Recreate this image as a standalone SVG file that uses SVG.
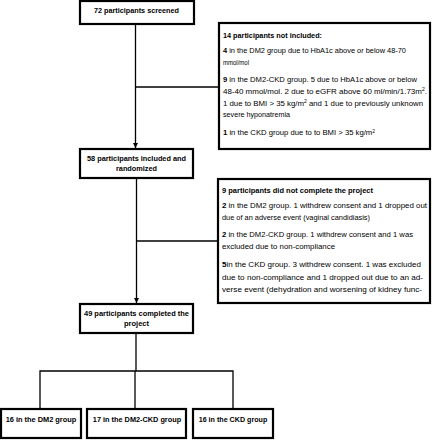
<svg xmlns="http://www.w3.org/2000/svg" width="432" height="440" viewBox="0 0 432 440">
<style>
.box{fill:#fff;stroke:#000;stroke-width:2.2}
.c{fill:none;stroke:#000;stroke-width:1.3}
text{font-family:"Liberation Sans",Arial,sans-serif;font-size:7px;fill:#000}
.b{font-weight:bold}
.m{text-anchor:middle}
.sup{font-size:4.5px}
</style>
<defs>
<marker id="ah" markerWidth="6" markerHeight="6" refX="5" refY="3" orient="auto" markerUnits="userSpaceOnUse">
<path d="M0,0.5 L5,3 L0,5.5 Z" fill="#000"/>
</marker>
</defs>
<rect width="432" height="440" fill="#fff"/>
<g id="connectors">
<path class="c" d="M135.5 24 V148" marker-end="url(#ah)"/>
<path class="c" d="M135.5 87 H219"/>
<path class="c" d="M136.5 178 V303" marker-end="url(#ah)"/>
<path class="c" d="M136.5 241 H218"/>
<path class="c" d="M136 333 V371"/>
<path class="c" d="M40 409 V371 H233 V409"/>
<path class="c" d="M135 371 V409"/>
</g>
<g id="screened">
<rect class="box" x="80" y="1" width="114" height="23"/>
<text class="b m" x="136.5" y="12.5" textLength="85" lengthAdjust="spacingAndGlyphs">72 participants screened</text>
</g>
<g id="not-included">
<rect class="box" x="219" y="23" width="211" height="126"/>
<text class="b" x="223" y="37.5" textLength="99" lengthAdjust="spacingAndGlyphs">14 participants not included:</text>
<text x="223" y="52.5" textLength="183" lengthAdjust="spacingAndGlyphs"><tspan class="b">4</tspan> in the DM2 group due to HbA1c above or below 48-70</text>
<text x="223" y="64.5" textLength="26" lengthAdjust="spacingAndGlyphs">mmol/mol</text>
<text x="223" y="81.5" textLength="194" lengthAdjust="spacingAndGlyphs"><tspan class="b">9</tspan> in the DM2-CKD group. 5 due to HbA1c above or below</text>
<text x="223" y="93.5" textLength="204" lengthAdjust="spacingAndGlyphs">48-40 mmol/mol. 2 due to eGFR above 60 ml/min/1.73m<tspan class="sup" dy="-2.5">2</tspan><tspan dy="2.5">.</tspan></text>
<text x="223" y="105.5" textLength="200" lengthAdjust="spacingAndGlyphs">1 due to BMI &gt; 35 kg/m<tspan class="sup" dy="-2.5">2</tspan><tspan dy="2.5"> and 1 due to previously unknown</tspan></text>
<text x="223" y="117" textLength="67" lengthAdjust="spacingAndGlyphs">severe hyponatremia</text>
<text x="223" y="135" textLength="152" lengthAdjust="spacingAndGlyphs"><tspan class="b">1</tspan> in the CKD group due to to BMI &gt; 35 kg/m<tspan class="sup" dy="-2.5">2</tspan></text>
</g>
<g id="randomized">
<rect class="box" x="80" y="149" width="113" height="29"/>
<text class="b m" x="136.5" y="160.8" textLength="99" lengthAdjust="spacingAndGlyphs">58 participants included and</text>
<text class="b m" x="136.5" y="171.2" textLength="41" lengthAdjust="spacingAndGlyphs">randomized</text>
</g>
<g id="not-completed">
<rect class="box" x="218" y="179" width="212" height="124"/>
<text class="b" x="222" y="192.5" textLength="151" lengthAdjust="spacingAndGlyphs">9 participants did not complete the project</text>
<text x="222" y="207.5" textLength="205" lengthAdjust="spacingAndGlyphs"><tspan class="b">2</tspan> in the DM2 group. 1 withdrew consent and 1 dropped out</text>
<text x="222" y="219.5" textLength="148" lengthAdjust="spacingAndGlyphs">due of an adverse event (vaginal candidiasis)</text>
<text x="222" y="236.5" textLength="191" lengthAdjust="spacingAndGlyphs"><tspan class="b">2</tspan> in the DM2-CKD group. 1 withdrew consent and 1 was</text>
<text x="222" y="249" textLength="113" lengthAdjust="spacingAndGlyphs">excluded due to non-compliance</text>
<text x="222" y="267" textLength="199" lengthAdjust="spacingAndGlyphs"><tspan class="b">5</tspan>in the CKD group. 3 withdrew consent. 1 was excluded</text>
<text x="222" y="279.5" textLength="201" lengthAdjust="spacingAndGlyphs">due to non-compliance and 1 dropped out due to an ad-</text>
<text x="222" y="291.5" textLength="200" lengthAdjust="spacingAndGlyphs">verse event (dehydration and worsening of kidney func-</text>
</g>
<g id="completed">
<rect class="box" x="80" y="304" width="113" height="29"/>
<text class="b m" x="136.5" y="315.8" textLength="105" lengthAdjust="spacingAndGlyphs">49 participants completed the</text>
<text class="b m" x="136.5" y="325.8" textLength="25" lengthAdjust="spacingAndGlyphs">project</text>
</g>
<g id="dm2">
<rect class="box" x="1" y="409" width="80" height="29"/>
<text class="b m" x="41" y="421.8" textLength="70.6" lengthAdjust="spacingAndGlyphs">16 in the DM2 group</text>
</g>
<g id="dm2-ckd">
<rect class="box" x="87" y="409" width="99" height="29"/>
<text class="b m" x="137" y="421.8" textLength="88.3" lengthAdjust="spacingAndGlyphs">17 in the DM2-CKD group</text>
</g>
<g id="ckd">
<rect class="box" x="193" y="409" width="80" height="29"/>
<text class="b m" x="233" y="421.8" textLength="68.6" lengthAdjust="spacingAndGlyphs">16 in the CKD group</text>
</g>
</svg>
